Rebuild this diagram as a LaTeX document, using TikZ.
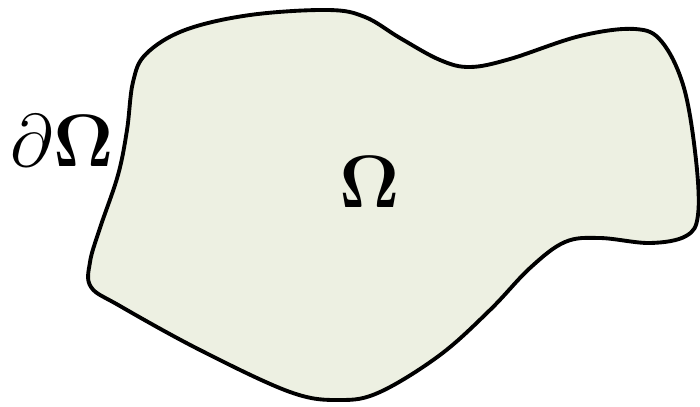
\documentclass[tikz,border=0pt]{standalone}
\usepackage{amsmath, amssymb}
\usetikzlibrary{positioning}
\definecolor{domfill}{RGB}{237,240,226}
\tikzset{
    region/.style={draw=black, line width=2.2pt, fill=domfill, line join=round},
    lbl/.style={inner sep=0pt, font=\Huge, scale=1.7}
}

\begin{document}
\begin{tikzpicture}[x=0.02cm, y=-0.02cm]
    \useasboundingbox (0,0) rectangle (700,406);
    % the domain
    \draw[region] plot[smooth cycle, tension=0.6] coordinates {
        (146,54) (185,30) (250,15) (328,10) (365,17) (400,38) (440,60)
        (470,67) (510,59) (580,36) (635,29) (662,42) (684,88) (696,160)
        (698,215) (686,236) (650,243) (600,238) (565,242) (530,268)
        (490,310) (440,355) (380,392) (340,400) (290,392) (200,350)
        (120,306) (91,287) (90,262) (100,228) (118,175) (127,130) (133,82)};
    \node[lbl] (Omega) at (370,182) {$\mathbf{\Omega}$};
    \node[lbl] (bdry) at (62,141) {$\partial\mathbf{\Omega}$};
\end{tikzpicture}
\end{document}
